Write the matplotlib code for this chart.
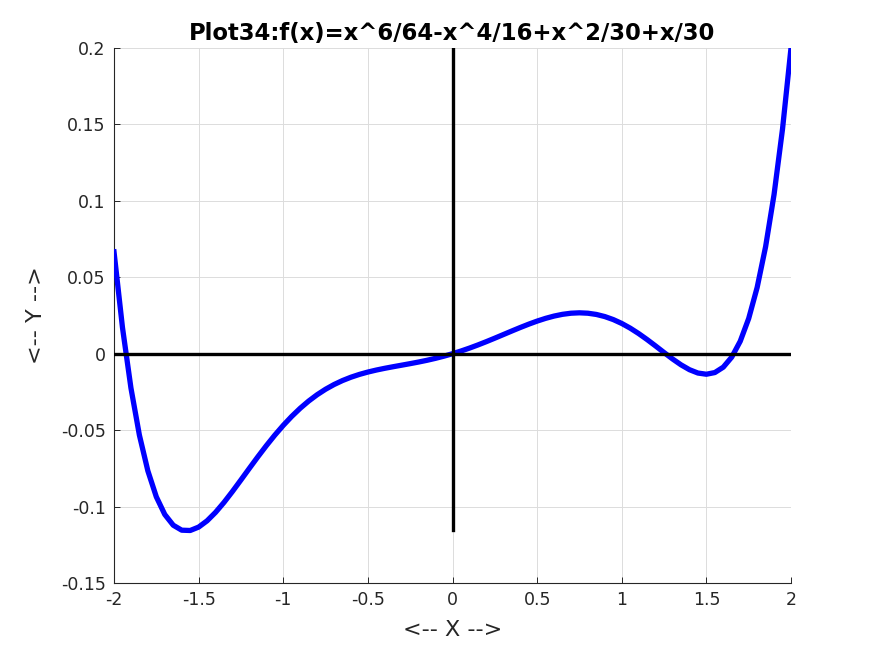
import matplotlib.pyplot as plt
from matplotlib.ticker import FormatStrFormatter

# values, step 0.05
x_vals = [-2.0, -1.95, -1.9, -1.85, -1.8, -1.75, -1.7, -1.65, -1.6, -1.55,
          -1.5, -1.45, -1.4, -1.35, -1.3, -1.25, -1.2, -1.15, -1.1, -1.05,
          -1.0, -0.95, -0.9, -0.85, -0.8, -0.75, -0.7, -0.65, -0.6, -0.55,
          -0.5, -0.45, -0.4, -0.35, -0.3, -0.25, -0.2, -0.15, -0.1, -0.05,
          0.0, 0.05, 0.1, 0.15, 0.2, 0.25, 0.3, 0.35, 0.4, 0.45,
          0.5, 0.55, 0.6, 0.65, 0.7, 0.75, 0.8, 0.85, 0.9, 0.95,
          1.0, 1.05, 1.1, 1.15, 1.2, 1.25, 1.3, 1.35, 1.4, 1.45,
          1.5, 1.55, 1.6, 1.65, 1.7, 1.75, 1.8, 1.85, 1.9, 1.95, 2.0]
y_vals = [0.066667, 0.017130, -0.022414, -0.053280, -0.076659, -0.093636,
          -0.105189, -0.112201, -0.115457, -0.115658, -0.113427, -0.109311,
          -0.103784, -0.097259, -0.090087, -0.082567, -0.074944, -0.067421,
          -0.060158, -0.053280, -0.046875, -0.041004, -0.035702, -0.030982,
          -0.026837, -0.023245, -0.020168, -0.017562, -0.015371, -0.013537,
          -0.011995, -0.010683, -0.009536, -0.008492, -0.007495, -0.006490,
          -0.005432, -0.004282, -0.003007, -0.001584,
          0.0, 0.001750, 0.003660, 0.005719, 0.007901, 0.010176, 0.012505,
          0.014841, 0.017131, 0.019317, 0.021338, 0.023130, 0.024629,
          0.025772, 0.026499, 0.026756, 0.026496, 0.025684, 0.024298,
          0.022329, 0.019792, 0.016720, 0.013175, 0.009245, 0.005056,
          0.000767, -0.003420, -0.007259, -0.010451, -0.012644, -0.013427,
          -0.012325, -0.008790, -0.002201, 0.008144, 0.023030, 0.043341,
          0.070054, 0.104253, 0.147130, 0.2]

x_ticks = [-2, -1.5, -1, -0.5, 0, 0.5, 1, 1.5, 2]
y_ticks = [-0.15, -0.1, -0.05, 0, 0.05, 0.1, 0.15, 0.2]

fig = plt.figure(figsize=(8.75, 6.56), dpi=100)
ax = fig.add_axes([0.1303, 0.1113, 0.7737, 0.8155])

ax.plot(x_vals, y_vals, color='#0000ff', linewidth=3.8, zorder=3)
ax.plot([min(x_vals), max(x_vals)], [0, 0], color='black', linewidth=2.4, zorder=4)
ax.plot([0, 0], [min(y_vals), max(y_vals)], color='black', linewidth=2.4, zorder=4)

ax.set_xlim(-2, 2)
ax.set_ylim(-0.15, 0.2)
ax.set_xticks(x_ticks)
ax.set_yticks(y_ticks)
ax.xaxis.set_major_formatter(FormatStrFormatter('%g'))
ax.yaxis.set_major_formatter(FormatStrFormatter('%g'))
ax.grid(True, color='#dcdcdc', linewidth=0.7)
ax.set_axisbelow(True)
ax.tick_params(direction='in', length=4, width=0.7, colors='#262626',
               labelsize=12.5, pad=6)
for s in ['top', 'right']:
    ax.spines[s].set_visible(False)
for s in ['left', 'bottom']:
    ax.spines[s].set_color('#262626')
    ax.spines[s].set_linewidth(0.8)

ax.set_xlabel('<-- X -->', fontsize=16, color='#262626', labelpad=8)
ax.set_ylabel('<-- Y -->', fontsize=16, color='#262626', labelpad=11)
ax.set_title('Plot34:f(x)=x^6/64-x^4/16+x^2/30+x/30', fontsize=16.4,
             fontweight='bold', pad=6)

fig.savefig('out.png', dpi=100)
